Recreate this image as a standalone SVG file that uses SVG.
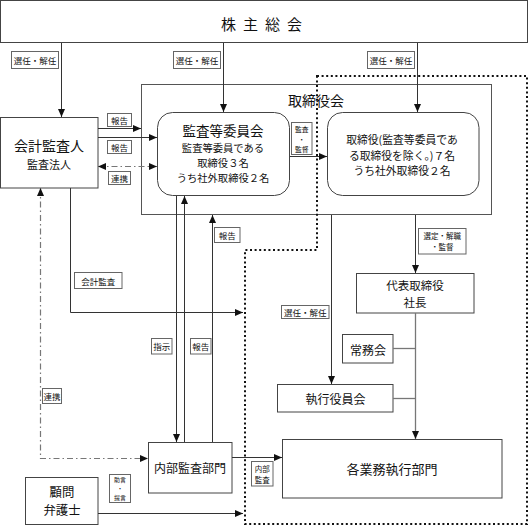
<svg xmlns="http://www.w3.org/2000/svg" width="529" height="528" viewBox="0 0 529 528">
<style>
text{font-family:"Noto Sans CJK JP","Noto Sans",sans-serif;fill:#111;text-anchor:middle;dominant-baseline:central}
.box{fill:#fff;stroke:#444;stroke-width:1}
.frame{fill:none;stroke:#555;stroke-width:1}
.lbl{fill:#fff;stroke:#666;stroke-width:1}
.lt{font-size:8.5px}
.ls{font-size:7.5px}
.lx{font-size:6.8px}
.ly{font-size:6px}
.ln{fill:none;stroke:#333;stroke-width:1}
.gl{fill:none;stroke:#777;stroke-width:1.3}
.dd{fill:none;stroke:#777;stroke-width:1.2;stroke-dasharray:6,3,1.5,3}
.dot{fill:none;stroke:#111;stroke-width:2;stroke-dasharray:2,2.6}
</style>
<defs>
<marker id="ah" viewBox="0 0 8 8" refX="8" refY="4" markerWidth="8" markerHeight="8" markerUnits="userSpaceOnUse" orient="auto-start-reverse">
<path d="M0,0.5 L8,4 L0,7.5 Z" fill="#111"/>
</marker>
</defs>

<rect width="529" height="528" fill="#fff"/>

<g id="soukai">
<rect class="box" x="0.5" y="0.5" width="527" height="42"/>
<text x="265" y="23" font-size="15" letter-spacing="7">株主総会</text>
</g>

<g id="torishimariyakukai">
<rect class="frame" x="141.5" y="84.5" width="350" height="130"/>
<text x="316" y="99.5" font-size="14">取締役会</text>
</g>

<g id="dotted-area">
<path class="dot" d="M317,76 H527 V524 H245 V250 H317 Z"/>
</g>

<g id="kaikeikansanin">
<rect class="box" x="0.5" y="117.5" width="97.5" height="70.5"/>
<text x="49" y="144.5" font-size="14">会計監査人</text>
<text x="49" y="163.5" font-size="11">監査法人</text>
</g>

<g id="kansatouiinkai">
<rect class="box" x="157.5" y="112.5" width="132" height="83" rx="15"/>
<text x="223" y="129.5" font-size="13.5">監査等委員会</text>
<text x="223" y="147" font-size="10.3">監査等委員である</text>
<text x="223" y="162" font-size="10.3">取締役３名</text>
<text x="223" y="177" font-size="10.3">うち社外取締役２名</text>
</g>

<g id="torishimariyaku">
<rect class="box" x="327.5" y="112.5" width="151.5" height="83" rx="15"/>
<text x="402" y="139" font-size="10.8">取締役(監査等委員であ</text>
<text x="402" y="154.5" font-size="10.8">る取締役を除く。)７名</text>
<text x="402" y="170" font-size="10.8">うち社外取締役２名</text>
</g>

<g id="daihyo">
<rect class="box" x="356.5" y="273.5" width="117.5" height="39.5"/>
<text x="415" y="285" font-size="11.5">代表取締役</text>
<text x="415" y="301.5" font-size="11.5">社長</text>
</g>

<g id="jyomukai">
<rect class="box" x="342.5" y="334.5" width="50.5" height="28.5"/>
<text x="368" y="349" font-size="12">常務会</text>
</g>

<g id="shikkoyakuinkai">
<rect class="box" x="277.5" y="384.5" width="115.5" height="27.5"/>
<text x="335.5" y="398.5" font-size="12">執行役員会</text>
</g>

<g id="naibukansa">
<rect class="box" x="148.5" y="442.5" width="83.5" height="50.5"/>
<text x="190" y="467.5" font-size="12">内部監査部門</text>
</g>

<g id="kakugyomu">
<rect class="box" x="282.5" y="439.5" width="219.5" height="58.5"/>
<text x="392" y="468.5" font-size="13">各業務執行部門</text>
</g>

<g id="komon">
<rect class="box" x="25.5" y="477.5" width="72.5" height="47"/>
<text x="62" y="492" font-size="12.4">顧問</text>
<text x="62" y="510" font-size="12.4">弁護士</text>
</g>

<g id="connectors">
<line class="ln" x1="61.5" y1="43" x2="61.5" y2="117" marker-end="url(#ah)"/>
<line class="ln" x1="223.5" y1="43" x2="223.5" y2="112" marker-end="url(#ah)"/>
<line class="ln" x1="417.5" y1="43" x2="417.5" y2="112" marker-end="url(#ah)"/>
<line class="ln" x1="98" y1="128.5" x2="141" y2="128.5" marker-end="url(#ah)"/>
<line class="ln" x1="98" y1="137.5" x2="157" y2="137.5" marker-end="url(#ah)"/>
<line class="dd" x1="98" y1="166.5" x2="157" y2="166.5" marker-start="url(#ah)" marker-end="url(#ah)"/>
<line class="ln" x1="290" y1="156.5" x2="327" y2="156.5" marker-end="url(#ah)"/>
<path class="ln" d="M70.5,188 V312.5 H243" marker-end="url(#ah)"/>
<path class="dd" d="M40.5,188 V458.5 H148" marker-start="url(#ah)" marker-end="url(#ah)"/>
<line class="ln" x1="176.5" y1="196" x2="176.5" y2="442" marker-end="url(#ah)"/>
<line class="ln" x1="184.5" y1="442" x2="184.5" y2="196" marker-end="url(#ah)"/>
<line class="ln" x1="212.5" y1="442" x2="212.5" y2="215" marker-end="url(#ah)"/>
<line class="ln" x1="232" y1="457.5" x2="282" y2="457.5" marker-end="url(#ah)"/>
<line class="ln" x1="98" y1="513.5" x2="243" y2="513.5" marker-end="url(#ah)"/>
<line class="ln" x1="331.5" y1="215" x2="331.5" y2="384" marker-end="url(#ah)"/>
<line class="ln" x1="415.5" y1="215" x2="415.5" y2="273" marker-end="url(#ah)"/>
<line class="gl" x1="415.5" y1="313" x2="415.5" y2="439" marker-end="url(#ah)"/>
<line class="gl" x1="393" y1="348.5" x2="415.5" y2="348.5"/>
<line class="gl" x1="393" y1="398.5" x2="415.5" y2="398.5"/>
</g>

<g id="labels">
<rect class="lbl" x="11.5" y="51.5" width="47" height="17"/><text class="lt" x="35" y="60">選任・解任</text>
<rect class="lbl" x="173.5" y="51.5" width="47" height="17"/><text class="lt" x="197" y="60">選任・解任</text>
<rect class="lbl" x="367.5" y="51.5" width="47" height="17"/><text class="lt" x="391" y="60">選任・解任</text>
<rect class="lbl" x="107.5" y="113.5" width="24" height="13"/><text class="lt" x="119.5" y="120">報告</text>
<rect class="lbl" x="107.5" y="140.5" width="24" height="13"/><text class="lt" x="119.5" y="147">報告</text>
<rect class="lbl" x="108.5" y="171.5" width="22" height="13"/><text class="lt" x="119.5" y="178">連携</text>
<rect class="lbl" x="291.5" y="122.5" width="20.5" height="32"/><text class="lx" x="301.7" y="128.5">監査</text><text class="lx" x="301.7" y="138.5">・</text><text class="lx" x="301.7" y="148.5">監督</text>
<rect class="lbl" x="214.5" y="227.5" width="25.5" height="15"/><text class="lt" x="227.2" y="235">報告</text>
<rect class="lbl" x="74.5" y="272.5" width="47.5" height="16"/><text class="lt" x="98.2" y="280.5">会計監査</text>
<rect class="lbl" x="418.5" y="228.5" width="47.5" height="25.5"/><text class="ls" x="442.2" y="235.5">選定・解職</text><text class="ls" x="442.2" y="246.5">・監督</text>
<rect class="lbl" x="281.5" y="305.5" width="47.5" height="13"/><text class="lt" x="305.2" y="312">選任・解任</text>
<rect class="lbl" x="151.5" y="338.5" width="20.5" height="15.5"/><text class="lt" x="161.7" y="346.2">指示</text>
<rect class="lbl" x="190.5" y="338.5" width="20.5" height="15.5"/><text class="lt" x="200.7" y="346.2">報告</text>
<rect class="lbl" x="42.5" y="388.5" width="19" height="15"/><text class="lt" x="52" y="396">連携</text>
<rect class="lbl" x="109.5" y="474.5" width="21" height="28"/><text class="ly" x="120" y="479.8">助言</text><text class="ly" x="120" y="488.5">・</text><text class="ly" x="120" y="497.2">提言</text>
<rect class="lbl" x="251.5" y="461.5" width="21.5" height="24.5"/><text class="ls" x="262.2" y="468">内部</text><text class="ls" x="262.2" y="479.5">監査</text>
</g>
</svg>
